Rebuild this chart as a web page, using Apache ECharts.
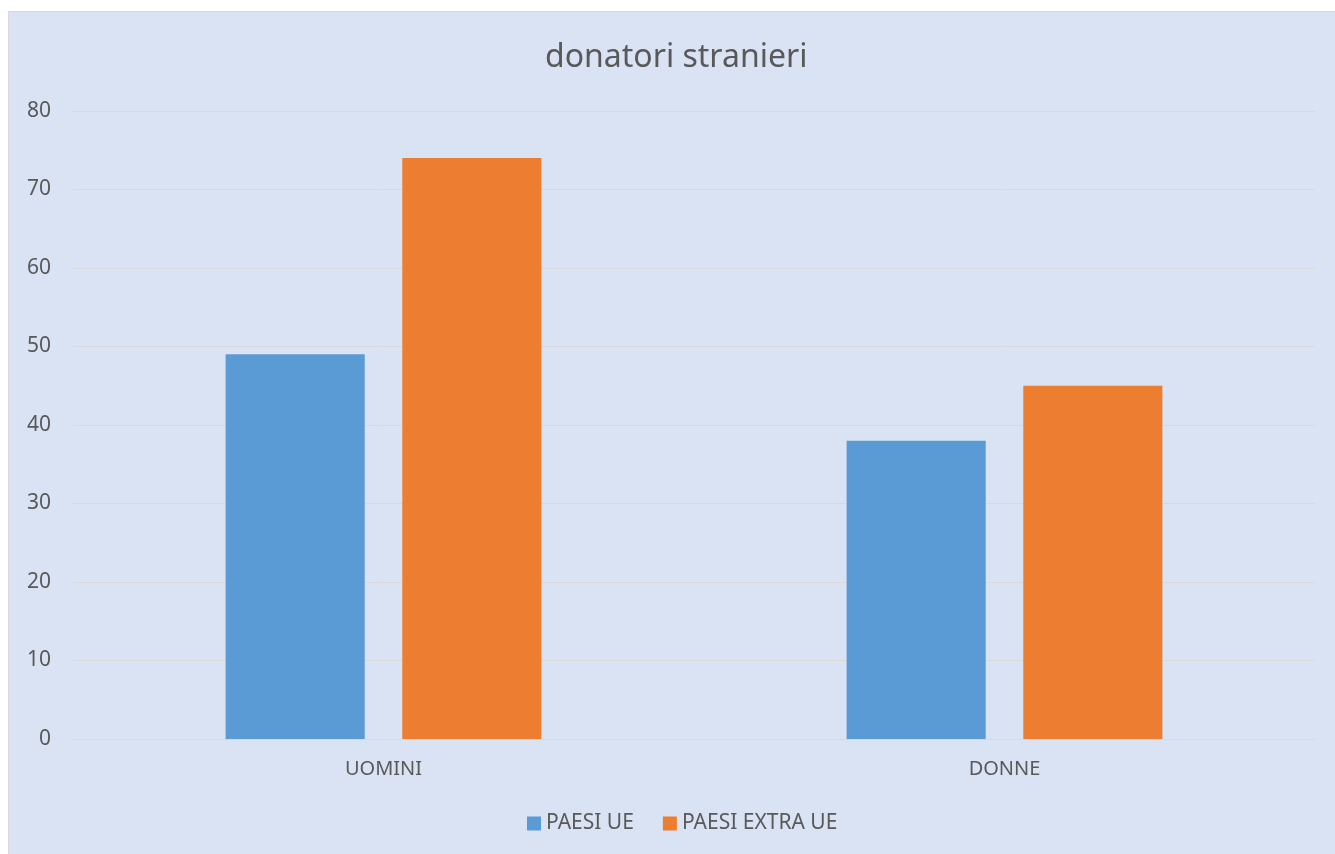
<!DOCTYPE html>
<html>
<head>
<meta charset="utf-8">
<script src="https://cdn.jsdelivr.net/npm/echarts@6/dist/echarts.min.js"></script>
<style>
  html, body { margin: 0; padding: 0; background: #ffffff; }
  #chart {
    position: absolute; left: 8px; top: 11px;
    width: 1327px; height: 843px;
    border-left: 1px solid #d9d9d9; border-top: 1px solid #d9d9d9;
    box-sizing: border-box;
  }
</style>
</head>
<body>
<div id="chart"></div>
<script>
  // dati
  var categories = ['UOMINI', 'DONNE']
  var paesiUe = [49, 38]
  var paesiExtraUe = [74, 45]
  var seriesNames = ['PAESI UE', 'PAESI EXTRA UE']

  var font = 'Noto Sans'
  var textColor = '#595959'

  var chart = echarts.init(document.getElementById('chart'))
  chart.setOption({
    backgroundColor: '#dae3f3',
    animation: false,
    title: {
      text: 'donatori stranieri',
      left: 531,
      top: 25,
      textStyle: { fontFamily: font, fontWeight: 'normal', fontSize: 32, color: textColor }
    },
    legend: {
      data: seriesNames,
      bottom: 15,
      left: 513,
      itemWidth: 14,
      itemHeight: 14,
      itemGap: 29,
      icon: 'rect',
      textStyle: { fontFamily: font, fontSize: 21, color: textColor }
    },
    grid: {
      left: 64,
      right: 20,
      top: 99,
      bottom: 115,
      containLabel: false
    },
    xAxis: {
      type: 'category',
      data: categories,
      axisLine: { lineStyle: { color: '#d9d9d9', width: 1 } },
      axisTick: { show: false },
      axisLabel: { margin: 20, fontFamily: font, fontSize: 20, color: textColor }
    },
    yAxis: {
      type: 'value',
      min: 0,
      max: 80,
      interval: 10,
      axisLine: { show: false },
      axisTick: { show: false },
      splitLine: { lineStyle: { color: '#d9d9d9', width: 1 } },
      axisLabel: { margin: 22, fontFamily: font, fontSize: 21, color: textColor }
    },
    series: [
      {
        name: seriesNames[0],
        type: 'bar',
        data: paesiUe,
        barWidth: '22.4%',
        barGap: '27%',
        itemStyle: { color: '#5b9bd5' }
      },
      {
        name: seriesNames[1],
        type: 'bar',
        data: paesiExtraUe,
        barWidth: '22.4%',
        barGap: '27%',
        itemStyle: { color: '#ed7d31' }
      }
    ]
  })
</script>
</body>
</html>
